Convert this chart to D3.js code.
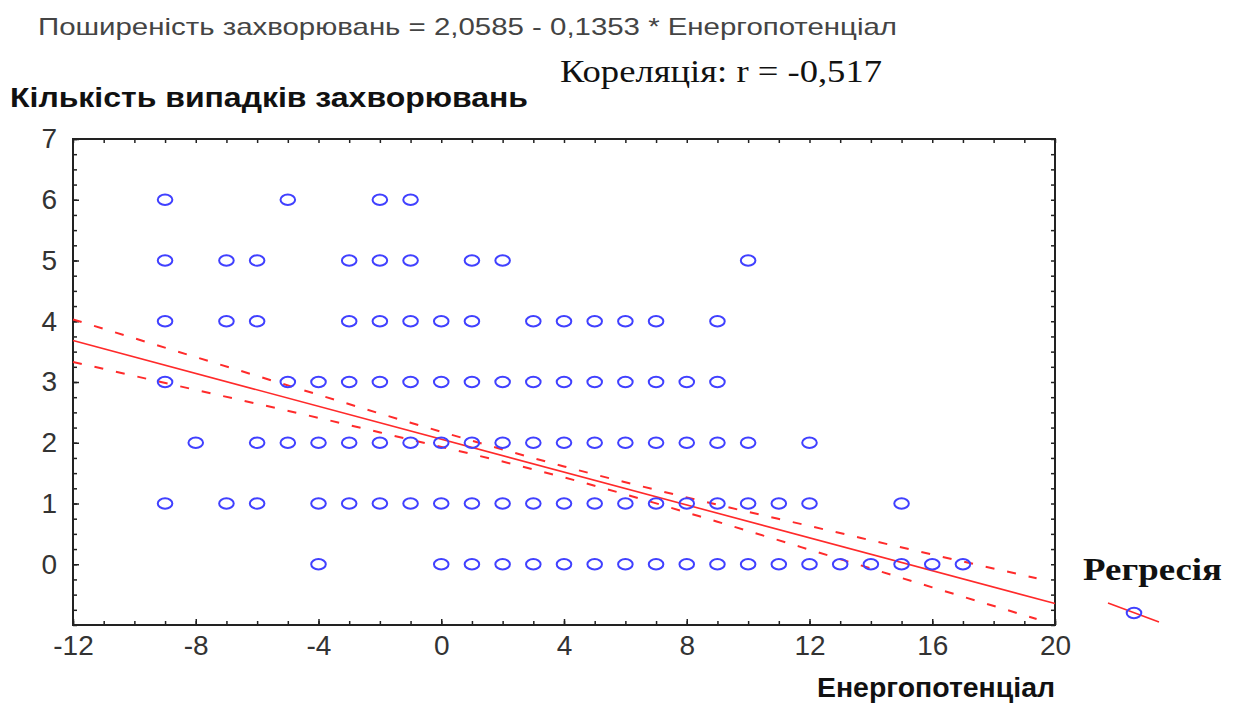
<!DOCTYPE html>
<html>
<head>
<meta charset="utf-8">
<script src="https://cdn.jsdelivr.net/npm/d3@7"></script>
<style>
  body { margin: 0; background: #fff; }
  svg { display: block; }
</style>
</head>
<body>
<script>
'use strict'
// points: energy values (x) found at each case count (y)
const energyAt6 = [-9, -5, -2, -1];
const energyAt5 = [-9, -7, -6, -3, -2, -1, 1, 2, 10];
const energyAt4 = [-9, -7, -6, -3, -2, -1, 0, 1, 3, 4, 5, 6, 7, 9];
const energyAt3 = [-9, -5, -4, -3, -2, -1, 0, 1, 2, 3, 4, 5, 6, 7, 8, 9];
const energyAt2 = [-8, -6, -5, -4, -3, -2, -1, 0, 1, 2, 3, 4, 5, 6, 7, 8, 9, 10, 12];
const energyAt1 = [-9, -7, -6, -4, -3, -2, -1, 0, 1, 2, 3, 4, 5, 6, 7, 8, 9, 10, 11, 12, 15];
const energyAt0 = [-4, 0, 1, 2, 3, 4, 5, 6, 7, 8, 9, 10, 11, 12, 13, 14, 15, 16, 17];

// regression (from the title) and its confidence band
const intercept = 2.0585;
const slope = -0.1353;
const bandX = [-12, -8, -4, -1, 2, 4, 6, 9, 12, 16, 19.4];
const bandUpper = [4.03, 3.41, 2.79, 2.33, 1.89, 1.61, 1.35, 0.98, 0.63, 0.16, -0.23];
const bandLower = [3.33, 2.87, 2.41, 2.05, 1.69, 1.43, 1.15, 0.70, 0.24, -0.38, -0.90];

const xTicks = [-12, -8, -4, 0, 4, 8, 12, 16, 20];
const yTicks = [0, 1, 2, 3, 4, 5, 6, 7];

const width = 1238, height = 704;
const pLeft = 73, pRight = 1055, pTop = 139, pBottom = 625;
const blue = "#4040ff", red = "#ff2a2a";
const sans = "Liberation Sans, Arial, sans-serif";
const serif = "Liberation Serif, Times New Roman, serif";

const svg = d3.select("body").append("svg")
    .attr("width", width)
    .attr("height", height);

const x = d3.scaleLinear().domain([-12, 20]).range([pLeft, pRight]);
const y = d3.scaleLinear().domain([-1, 7]).range([pBottom, pTop]);

const fmt = d => String(d);

// minor ticks on all four sides
svg.append("g").attr("transform", `translate(0,${pBottom})`)
    .call(d3.axisBottom(x).tickValues(d3.range(-12, 21, 1)).tickSize(-4).tickFormat(""));
svg.append("g").attr("transform", `translate(0,${pTop})`)
    .call(d3.axisTop(x).tickValues(d3.range(-12, 21, 1)).tickSize(-4).tickFormat(""));
svg.append("g").attr("transform", `translate(${pLeft},0)`)
    .call(d3.axisLeft(y).tickValues(d3.range(-1, 7.01, 0.25)).tickSize(-4).tickFormat(""));
svg.append("g").attr("transform", `translate(${pRight},0)`)
    .call(d3.axisRight(y).tickValues(d3.range(-1, 7.01, 0.25)).tickSize(-4).tickFormat(""));

// major ticks + labels
const xAxis = svg.append("g").attr("transform", `translate(0,${pBottom})`)
    .call(d3.axisBottom(x).tickValues(xTicks).tickSize(-6).tickPadding(10).tickFormat(fmt));
const yAxis = svg.append("g").attr("transform", `translate(${pLeft},0)`)
    .call(d3.axisLeft(y).tickValues(yTicks).tickSize(-6).tickPadding(16).tickFormat(fmt));

svg.selectAll(".domain").remove();
svg.selectAll(".tick line").attr("stroke", "#222").attr("stroke-width", 1.5);
[xAxis, yAxis].forEach(a => a.selectAll("text")
    .attr("font-family", sans)
    .attr("font-size", "28px")
    .attr("fill", "#333"));

svg.append("rect")
    .attr("x", pLeft).attr("y", pTop)
    .attr("width", pRight - pLeft).attr("height", pBottom - pTop)
    .attr("fill", "none").attr("stroke", "#222").attr("stroke-width", 2);

// regression line
const fit = v => intercept + slope * v;
svg.append("line")
    .attr("x1", x(-12)).attr("y1", y(fit(-12)))
    .attr("x2", x(20)).attr("y2", y(fit(20)))
    .attr("stroke", red).attr("stroke-width", 1.6);

const band = d3.line().x(d => x(d[0])).y(d => y(d[1])).curve(d3.curveMonotoneX);
[bandUpper, bandLower].forEach(vals => {
    svg.append("path")
        .attr("d", band(d3.zip(bandX, vals)))
        .attr("fill", "none")
        .attr("stroke", red)
        .attr("stroke-width", 2)
        .attr("stroke-dasharray", "9,13");
});

// points
const rows = [[6, energyAt6], [5, energyAt5], [4, energyAt4], [3, energyAt3],
    [2, energyAt2], [1, energyAt1], [0, energyAt0]];
const points = rows.flatMap(([c, xs]) => xs.map(e => ({ e: e, c: c })));
svg.append("g").selectAll("ellipse")
    .data(points)
    .enter()
    .append("ellipse")
    .attr("cx", d => x(d.e))
    .attr("cy", d => y(d.c))
    .attr("rx", 7.3)
    .attr("ry", 5.2)
    .attr("fill", "none")
    .attr("stroke", blue)
    .attr("stroke-width", 2);

// texts
svg.append("text")
    .attr("x", 38).attr("y", 35)
    .attr("font-family", sans)
    .attr("font-size", "24px")
    .attr("fill", "#444")
    .attr("textLength", 859)
    .attr("lengthAdjust", "spacingAndGlyphs")
    .text("Поширеність захворювань = 2,0585 - 0,1353 * Енергопотенціал");

svg.append("text")
    .attr("x", 560).attr("y", 82)
    .attr("font-family", serif)
    .attr("font-size", "31px")
    .attr("fill", "#111")
    .attr("textLength", 322)
    .attr("lengthAdjust", "spacingAndGlyphs")
    .text("Кореляція: r = -0,517");

svg.append("text")
    .attr("x", 10).attr("y", 107)
    .attr("font-family", sans)
    .attr("font-weight", "bold")
    .attr("font-size", "27px")
    .attr("fill", "#111")
    .attr("textLength", 518)
    .attr("lengthAdjust", "spacingAndGlyphs")
    .text("Кількість випадків захворювань");

svg.append("text")
    .attr("x", 817).attr("y", 697)
    .attr("font-family", sans)
    .attr("font-weight", "bold")
    .attr("font-size", "27px")
    .attr("fill", "#111")
    .attr("textLength", 238)
    .attr("lengthAdjust", "spacingAndGlyphs")
    .text("Енергопотенціал");

// legend
svg.append("text")
    .attr("x", 1083).attr("y", 580)
    .attr("font-family", serif)
    .attr("font-weight", "bold")
    .attr("font-size", "32px")
    .attr("fill", "#111")
    .attr("textLength", 139)
    .attr("lengthAdjust", "spacingAndGlyphs")
    .text("Регресія");
svg.append("line")
    .attr("x1", 1108).attr("y1", 603).attr("x2", 1159).attr("y2", 622)
    .attr("stroke", red).attr("stroke-width", 1.6);
svg.append("ellipse")
    .attr("cx", 1134).attr("cy", 613).attr("rx", 7.3).attr("ry", 5.2)
    .attr("fill", "none").attr("stroke", blue).attr("stroke-width", 2);
</script>
</body>
</html>
